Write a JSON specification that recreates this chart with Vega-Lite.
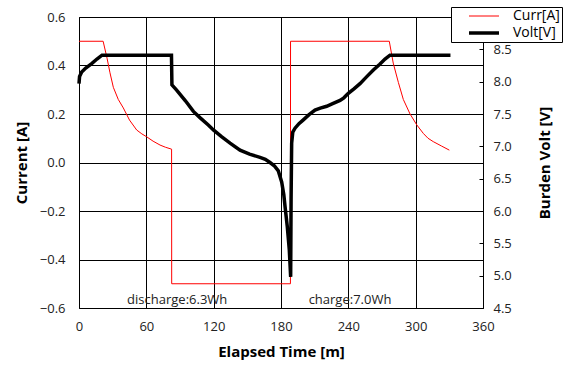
{
  "$schema": "https://vega.github.io/schema/vega-lite/v6.json",
  "width": 404,
  "height": 291,
  "autosize": "none",
  "padding": {"left": 79, "top": 17, "right": 84, "bottom": 70},
  "background": "white",
  "config": {
    "font": "Open Sans",
    "view": {"stroke": "black", "strokeWidth": 1},
    "axis": {
      "labelFont": "Open Sans",
      "labelFontSize": 13,
      "labelColor": "#222222",
      "labelFlush": false,
      "titleFont": "Open Sans",
      "titleFontSize": 15,
      "titleFontWeight": "bold",
      "titleColor": "black",
      "gridColor": "black",
      "gridOpacity": 1,
      "gridWidth": 1,
      "domain": false
    },
    "legend": {
      "orient": "none", "legendX": 372, "legendY": -10, "title": null,
      "strokeColor": "black", "fillColor": "white", "padding": 2,
      "labelFontSize": 14, "labelColor": "black", "labelFont": "Open Sans",
      "symbolType": "M-3,0H3", "symbolSize": 100, "symbolOffset": 24, "labelOffset": 22, "rowPadding": 3
    }
  },
  "datasets": {
    "curr": [
      {"t": 0, "v": 0.5, "series": "Curr[A]"},
      {"t": 21.5, "v": 0.5, "series": "Curr[A]"},
      {"t": 25, "v": 0.43, "series": "Curr[A]"},
      {"t": 27.6, "v": 0.37, "series": "Curr[A]"},
      {"t": 30.6, "v": 0.31, "series": "Curr[A]"},
      {"t": 35, "v": 0.26, "series": "Curr[A]"},
      {"t": 39.5, "v": 0.225, "series": "Curr[A]"},
      {"t": 45, "v": 0.175, "series": "Curr[A]"},
      {"t": 51.4, "v": 0.134, "series": "Curr[A]"},
      {"t": 56, "v": 0.118, "series": "Curr[A]"},
      {"t": 60.3, "v": 0.106, "series": "Curr[A]"},
      {"t": 66, "v": 0.088, "series": "Curr[A]"},
      {"t": 72.2, "v": 0.072, "series": "Curr[A]"},
      {"t": 77, "v": 0.063, "series": "Curr[A]"},
      {"t": 82.5, "v": 0.055, "series": "Curr[A]"},
      {"t": 82.6, "v": -0.5, "series": "Curr[A]"},
      {"t": 188.4, "v": -0.5, "series": "Curr[A]"},
      {"t": 188.5, "v": 0.5, "series": "Curr[A]"},
      {"t": 276.5, "v": 0.5, "series": "Curr[A]"},
      {"t": 280, "v": 0.41, "series": "Curr[A]"},
      {"t": 284.6, "v": 0.33, "series": "Curr[A]"},
      {"t": 289, "v": 0.26, "series": "Curr[A]"},
      {"t": 295, "v": 0.2, "series": "Curr[A]"},
      {"t": 301, "v": 0.155, "series": "Curr[A]"},
      {"t": 306.8, "v": 0.12, "series": "Curr[A]"},
      {"t": 311, "v": 0.1, "series": "Curr[A]"},
      {"t": 315.7, "v": 0.086, "series": "Curr[A]"},
      {"t": 323, "v": 0.068, "series": "Curr[A]"},
      {"t": 330, "v": 0.051, "series": "Curr[A]"}
    ],
    "volt": [
      {"t": 0, "v": 7.97, "series": "Volt[V]"},
      {"t": 0.5, "v": 8.08, "series": "Volt[V]"},
      {"t": 2.4, "v": 8.15, "series": "Volt[V]"},
      {"t": 6, "v": 8.21, "series": "Volt[V]"},
      {"t": 11.3, "v": 8.28, "series": "Volt[V]"},
      {"t": 16, "v": 8.35, "series": "Volt[V]"},
      {"t": 20.5, "v": 8.41, "series": "Volt[V]"},
      {"t": 82.4, "v": 8.41, "series": "Volt[V]"},
      {"t": 82.8, "v": 7.95, "series": "Volt[V]"},
      {"t": 87, "v": 7.87, "series": "Volt[V]"},
      {"t": 95, "v": 7.7, "series": "Volt[V]"},
      {"t": 101.9, "v": 7.54, "series": "Volt[V]"},
      {"t": 108, "v": 7.44, "series": "Volt[V]"},
      {"t": 115.2, "v": 7.33, "series": "Volt[V]"},
      {"t": 120, "v": 7.25, "series": "Volt[V]"},
      {"t": 127, "v": 7.15, "series": "Volt[V]"},
      {"t": 134.6, "v": 7.05, "series": "Volt[V]"},
      {"t": 143.5, "v": 6.94, "series": "Volt[V]"},
      {"t": 152, "v": 6.88, "series": "Volt[V]"},
      {"t": 161.3, "v": 6.83, "series": "Volt[V]"},
      {"t": 166, "v": 6.8, "series": "Volt[V]"},
      {"t": 170.2, "v": 6.75, "series": "Volt[V]"},
      {"t": 174, "v": 6.7, "series": "Volt[V]"},
      {"t": 177.6, "v": 6.62, "series": "Volt[V]"},
      {"t": 180.6, "v": 6.45, "series": "Volt[V]"},
      {"t": 182.5, "v": 6.25, "series": "Volt[V]"},
      {"t": 183.6, "v": 6.07, "series": "Volt[V]"},
      {"t": 185.6, "v": 5.76, "series": "Volt[V]"},
      {"t": 187.4, "v": 5.4, "series": "Volt[V]"},
      {"t": 188.6, "v": 4.98, "series": "Volt[V]"},
      {"t": 189.0, "v": 6.2, "series": "Volt[V]"},
      {"t": 189.5, "v": 7.05, "series": "Volt[V]"},
      {"t": 190.5, "v": 7.22, "series": "Volt[V]"},
      {"t": 192.5, "v": 7.28, "series": "Volt[V]"},
      {"t": 196, "v": 7.35, "series": "Volt[V]"},
      {"t": 199.9, "v": 7.41, "series": "Volt[V]"},
      {"t": 205, "v": 7.49, "series": "Volt[V]"},
      {"t": 210.3, "v": 7.56, "series": "Volt[V]"},
      {"t": 215, "v": 7.59, "series": "Volt[V]"},
      {"t": 220.7, "v": 7.62, "series": "Volt[V]"},
      {"t": 226, "v": 7.66, "series": "Volt[V]"},
      {"t": 232.6, "v": 7.71, "series": "Volt[V]"},
      {"t": 236, "v": 7.75, "series": "Volt[V]"},
      {"t": 240, "v": 7.82, "series": "Volt[V]"},
      {"t": 245, "v": 7.89, "series": "Volt[V]"},
      {"t": 250.4, "v": 7.97, "series": "Volt[V]"},
      {"t": 256, "v": 8.07, "series": "Volt[V]"},
      {"t": 262.3, "v": 8.18, "series": "Volt[V]"},
      {"t": 268, "v": 8.27, "series": "Volt[V]"},
      {"t": 272.7, "v": 8.35, "series": "Volt[V]"},
      {"t": 277.1, "v": 8.41, "series": "Volt[V]"},
      {"t": 331, "v": 8.41, "series": "Volt[V]"}
    ],
    "notes": [
      {"t": 87.5, "v": -0.567, "label": "discharge:6.3Wh"},
      {"t": 241.5, "v": -0.567, "label": "charge:7.0Wh"}
    ]
  },
  "layer": [
    {
      "data": {"name": "curr"},
      "mark": {"type": "line"},
      "encoding": {
        "x": {
          "field": "t", "type": "quantitative",
          "scale": {"domain": [0, 360], "nice": false},
          "axis": {"values": [0, 60, 120, 180, 240, 300, 360], "title": "Elapsed Time [m]", "grid": true, "ticks": false, "labelPadding": 12, "titlePadding": 11}
        },
        "y": {
          "field": "v", "type": "quantitative",
          "scale": {"domain": [-0.6, 0.6], "nice": false, "zero": false},
          "axis": {"values": [-0.6, -0.4, -0.2, 0, 0.2, 0.4, 0.6], "format": ".1f", "title": "Current [A]", "grid": true, "ticks": false, "labelPadding": 14, "titlePadding": 10}
        },
        "color": {
          "field": "series", "type": "ordinal",
          "scale": {"domain": ["Curr[A]", "Volt[V]"], "range": ["#ff0000", "#000000"]}
        },
        "strokeWidth": {
          "field": "series", "type": "ordinal",
          "scale": {"domain": ["Curr[A]", "Volt[V]"], "range": [1, 3.5]}
        }
      }
    },
    {
      "data": {"name": "notes"},
      "mark": {"type": "text", "fontSize": 13, "color": "#222222", "font": "Open Sans"},
      "encoding": {
        "x": {"field": "t", "type": "quantitative"},
        "y": {"field": "v", "type": "quantitative", "scale": {"domain": [-0.6, 0.6], "nice": false, "zero": false}, "axis": null},
        "text": {"field": "label"}
      }
    },
    {
      "data": {"name": "volt"},
      "mark": {"type": "line"},
      "encoding": {
        "x": {"field": "t", "type": "quantitative"},
        "y": {
          "field": "v", "type": "quantitative",
          "scale": {"domain": [4.5, 9.0], "nice": false, "zero": false},
          "axis": {"orient": "right", "values": [4.5, 5.0, 5.5, 6.0, 6.5, 7.0, 7.5, 8.0, 8.5], "format": ".1f", "title": "Burden Volt [V]", "titleAngle": 270, "grid": false, "ticks": true, "tickSize": -4, "tickColor": "black", "labelPadding": 14, "titlePadding": 41}
        },
        "color": {"field": "series", "type": "ordinal"},
        "strokeWidth": {"field": "series", "type": "ordinal"}
      }
    }
  ],
  "resolve": {"scale": {"y": "independent"}}
}
